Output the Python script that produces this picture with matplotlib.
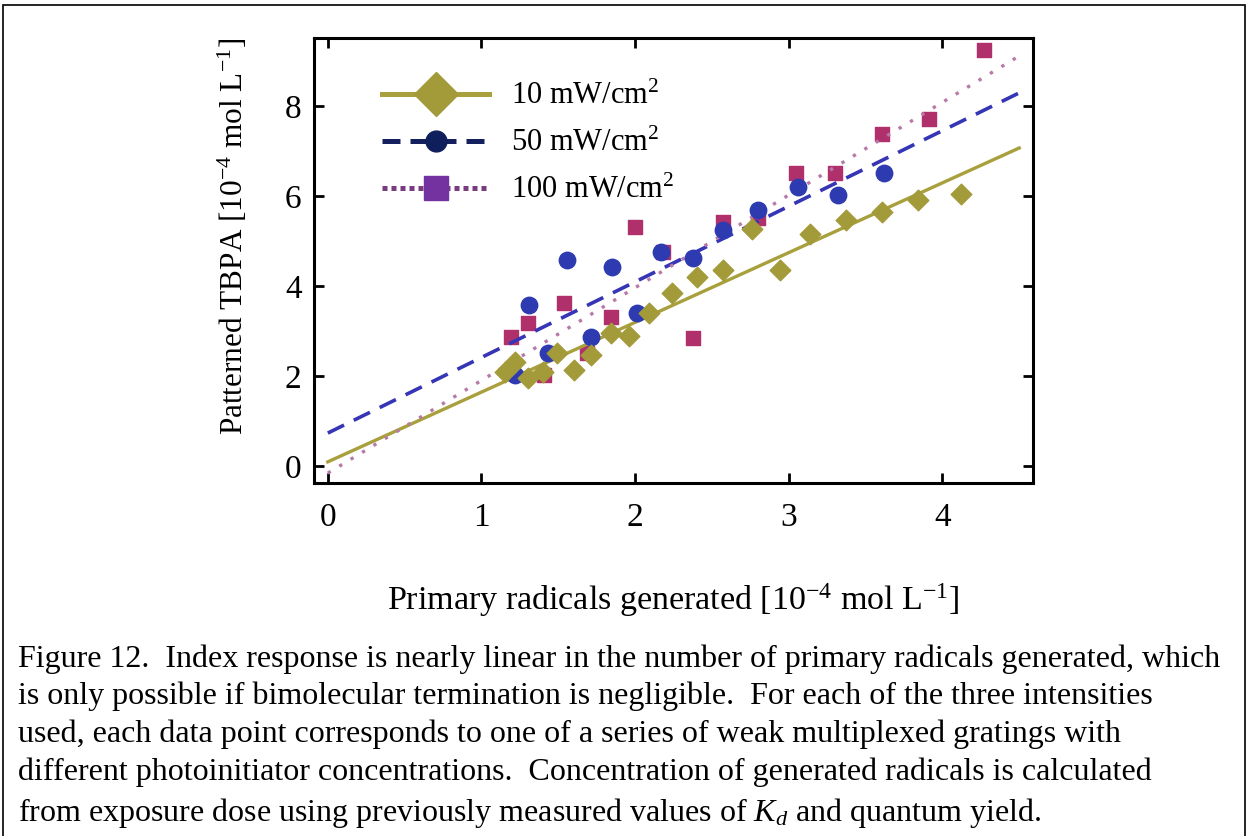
import matplotlib
matplotlib.use('Agg')
import matplotlib.pyplot as plt
from matplotlib.lines import Line2D
from matplotlib.patches import Rectangle
import numpy as np

plt.rcParams['font.family'] = ['Liberation Serif', 'DejaVu Serif']
plt.rcParams['mathtext.fontset'] = 'custom'
plt.rcParams['mathtext.rm'] = 'Liberation Serif'
plt.rcParams['mathtext.it'] = 'Liberation Serif:italic'

# данные
x_10 = [1.15, 1.22, 1.30, 1.40, 1.49, 1.60, 1.71, 1.84, 1.96, 2.09,
        2.24, 2.40, 2.57, 2.76, 2.94, 3.14, 3.37, 3.61, 3.84, 4.12]
y_10 = [2.09, 2.31, 1.96, 2.09, 2.51, 2.13, 2.47, 2.96, 2.89, 3.40,
        3.84, 4.20, 4.36, 5.27, 4.36, 5.16, 5.47, 5.64, 5.91, 6.04]

x_50 = [1.22, 1.31, 1.43, 1.56, 1.71, 1.85, 2.01, 2.17, 2.38, 2.57,
        2.80, 3.06, 3.32, 3.62]
y_50 = [2.02, 3.58, 2.51, 4.58, 2.87, 4.43, 3.40, 4.76, 4.62, 5.24,
        5.69, 6.20, 6.02, 6.51]

x_100 = [1.19, 1.30, 1.41, 1.54, 1.69, 1.84, 2.00, 2.18, 2.38, 2.57,
         2.80, 3.05, 3.30, 3.61, 3.91, 4.27]
y_100 = [2.87, 3.18, 2.02, 3.62, 2.50, 3.31, 5.31, 4.76, 2.84, 5.42,
         5.50, 6.51, 6.51, 7.38, 7.71, 9.24]

# линейные аппроксимации (наклон, свободный член)
fit_slope = [1.55, 1.68, 2.06]
fit_icpt = [0.09, 0.73, -0.16]
fit_xmax = 4.5

labels = ['10 mW/cm$^2$', '50 mW/cm$^2$', '100 mW/cm$^2$']
xticks = [0, 1, 2, 3, 4]
yticks = [0, 2, 4, 6, 8]

W, H = 1248, 836
fig = plt.figure(figsize=(W / 100, H / 100), dpi=100)
fig.patches.append(Rectangle((3 / W, -0.01), (1242) / W, 1 - 5 / H + 0.01,
                             transform=fig.transFigure, fill=False,
                             edgecolor='black', linewidth=1.2))

ax = fig.add_axes([314 / W, 1 - 483 / H, (1033 - 314) / W, (483 - 38) / H])

xf = np.array([0, fit_xmax])
ax.plot(xf, fit_icpt[0] + fit_slope[0] * xf, color='#a8a03c', lw=2.4, zorder=3)
ax.plot(xf, fit_icpt[1] + fit_slope[1] * xf, color='#3535b5', lw=2.6,
        dashes=(5, 3), zorder=3)
ax.plot(xf, fit_icpt[2] + fit_slope[2] * xf, color='#b77aa8', lw=2.4,
        dashes=(1, 3), zorder=3)

ax.scatter(x_100, y_100, marker='s', s=110, color='#b0306c', zorder=2)
ax.scatter(x_50, y_50, marker='o', s=140, color='#2e3bb0', zorder=4)
ax.scatter(x_10, y_10, marker='D', s=110, color='#a39b3a', zorder=5)

ax.set_xlim(-0.09, 4.59)
ax.set_ylim(-0.38, 9.51)
ax.set_xticks(xticks)
ax.set_yticks(yticks)
ax.tick_params(direction='in', length=7, width=2, top=True, right=True,
               labelsize=24, colors='black')
ax.tick_params(axis='x', pad=14)
ax.tick_params(axis='y', pad=9)
for sp in ax.spines.values():
    sp.set_linewidth(2.2)

ax.set_xlabel('Primary radicals generated [10$^{-4}$ mol L$^{-1}$]',
              fontsize=24.5, labelpad=35)
ax.set_ylabel('Patterned TBPA [10$^{-4}$ mol L$^{-1}$]', fontsize=22.5)
ax.yaxis.set_label_coords(-0.089, 0.553)

handles = [
    Line2D([], [], color='#a8a03c', lw=3.6, marker='D', markersize=22,
           markerfacecolor='#a39b3a', markeredgecolor='#a39b3a'),
    Line2D([], [], color='#14205e', lw=3.6, dashes=(3.6, 2), marker='o',
           markersize=15, markerfacecolor='#0f1f5c', markeredgecolor='#0f1f5c'),
    Line2D([], [], color='#7a3c80', lw=3.6, dashes=(1, 0.8), marker='s',
           markersize=17, markerfacecolor='#7432a0', markeredgecolor='#7432a0'),
]
ax.legend(handles, labels, loc='upper left', bbox_to_anchor=(0.078, 0.928),
          frameon=False, fontsize=22, handlelength=3.5, handletextpad=0.7,
          labelspacing=0.58, borderaxespad=0)

caption = ('Figure 12.  Index response is nearly linear in the number of primary radicals generated, which\n'
           'is only possible if bimolecular termination is negligible.  For each of the three intensities\n'
           'used, each data point corresponds to one of a series of weak multiplexed gratings with\n'
           'different photoinitiator concentrations.  Concentration of generated radicals is calculated\n'
           'from exposure dose using previously measured values of $K_d$ and quantum yield.')
fig.text(18 / W, 1 - 644 / H, caption, ha='left', va='top', fontsize=23,
         linespacing=1.37)

fig.savefig('out.png', dpi=100)
